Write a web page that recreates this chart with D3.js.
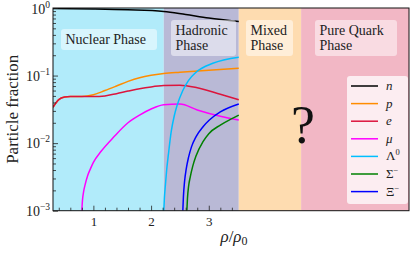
<!DOCTYPE html>
<html>
<head>
<meta charset="utf-8">
<script src="https://cdn.jsdelivr.net/npm/d3@7"></script>
<style>
  html, body { margin:0; padding:0; background:#fff; }
  svg { display:block; }
  svg text { font-family:"Liberation Serif", "Times New Roman", "DejaVu Serif", serif; }
</style>
</head>
<body>
<svg id="chart" width="415" height="253"></svg>
<script>
// ── 데이터 ─────────────────────────────────────────
const nX  = [0.3, 1.0, 1.6, 2.22, 2.6, 3.0, 3.52];
const nY  = [0.98, 0.965, 0.94, 0.89, 0.80, 0.71, 0.63];

const pX  = [0.3, 0.4, 0.5, 0.6, 0.8, 1.0, 1.2, 1.4, 1.6, 1.8, 2.0, 2.22, 2.5, 3.0, 3.52];
const pY  = [0.034, 0.044, 0.048, 0.049, 0.049, 0.052, 0.060, 0.070, 0.082, 0.093, 0.101, 0.107, 0.112, 0.12, 0.128];

const eX  = [0.3, 0.4, 0.5, 0.6, 0.8, 1.0, 1.2, 1.4, 1.6, 1.8, 2.0, 2.22, 2.5, 2.8, 3.2, 3.52];
const eY  = [0.034, 0.044, 0.048, 0.049, 0.049, 0.049, 0.050, 0.054, 0.059, 0.064, 0.068, 0.071, 0.072, 0.066, 0.053, 0.044];

const muX = [0.8, 0.81, 0.83, 0.86, 0.9, 0.95, 1.0, 1.13, 1.36, 1.6, 1.8, 2.0, 2.22, 2.5, 2.8, 3.2, 3.52];
const muY = [0.001, 0.0014, 0.0019, 0.0025, 0.0033, 0.0042, 0.0052, 0.0075, 0.0125, 0.020, 0.026, 0.032, 0.037, 0.038, 0.031, 0.025, 0.022];

const laX = [2.22, 2.23, 2.25, 2.27, 2.3, 2.35, 2.4, 2.45, 2.55, 2.65, 2.78, 3.07, 3.52];
const laY = [0.001, 0.0015, 0.0025, 0.004, 0.0068, 0.015, 0.025, 0.036, 0.060, 0.085, 0.112, 0.152, 0.187];

const siX = [2.62, 2.63, 2.65, 2.68, 2.72, 2.78, 2.9, 3.0, 3.2, 3.4, 3.52];
const siY = [0.001, 0.0015, 0.0023, 0.0032, 0.0045, 0.0065, 0.0105, 0.0138, 0.0185, 0.023, 0.026];

const xiX = [2.55, 2.56, 2.58, 2.61, 2.65, 2.7, 2.78, 2.9, 3.01, 3.2, 3.52];
const xiY = [0.001, 0.0016, 0.0027, 0.0042, 0.0062, 0.0088, 0.0125, 0.0175, 0.022, 0.029, 0.038];

const seriesNames  = ["n", "p", "e", "μ", "Λ", "Σ", "Ξ"];
const seriesSup    = ["", "", "", "", "0", "−", "−"];
const seriesColors = ["#000000", "#ff8c00", "#dc143c", "#ff00ff", "#00bfff", "#008000", "#0000ff"];
const seriesX = [nX, pX, eX, muX, laX, siX, xiX];
const seriesY = [nY, pY, eY, muY, laY, siY, xiY];
// 그리는 순서 (범례 순서와 다름)
const drawOrder = [0, 1, 2, 3, 4, 6, 5];

// 상(phase) 구간
const phaseEdges  = [0.3, 2.22, 3.52, 4.6, 6.47];
const phaseColors = ["#b1ebfa", "#b9b9d6", "#fedcb0", "#f2b7c5"];

const xMajor = [1, 2, 3];
const yMajor = [1e-3, 1e-2, 1e-1, 1];
const yTickExp = ["−3", "−2", "−1", "0"];

// ── 레이아웃 ─────────────────────────────────────────────
const W = 415, H = 253;
const M = { left: 53, right: 6, top: 8, bottom: 42.3 };

const svg = d3.select("#chart");
const x = d3.scaleLinear().domain([0.3, 6.47]).range([M.left, W - M.right]);
const y = d3.scaleLog().domain([1e-3, 1]).range([H - M.bottom, M.top]);

// 배경 구간
svg.append("g").selectAll("rect")
  .data(phaseColors)
  .join("rect")
  .attr("x", (d, i) => x(phaseEdges[i]))
  .attr("width", (d, i) => x(phaseEdges[i + 1]) - x(phaseEdges[i]))
  .attr("y", M.top)
  .attr("height", y(1e-3) - M.top)
  .attr("fill", d => d);

// 곡선
svg.append("clipPath").attr("id", "clip")
  .append("rect").attr("x", M.left).attr("y", M.top)
  .attr("width", W - M.right - M.left).attr("height", y(1e-3) - M.top);

const line = d3.line().x(d => x(d[0])).y(d => y(d[1])).curve(d3.curveMonotoneX);
svg.append("g").attr("clip-path", "url(#clip)")
  .selectAll("path")
  .data(drawOrder)
  .join("path")
  .attr("d", i => line(d3.zip(seriesX[i], seriesY[i])))
  .attr("fill", "none")
  .attr("stroke", i => seriesColors[i])
  .attr("stroke-width", 1.5);

// 축 (눈금은 안쪽으로)
const xMinor = d3.range(0.4, 3.41, 0.2).filter(v => Math.abs(v - Math.round(v)) > 0.01);
const xAxis = svg.append("g").attr("transform", `translate(0,${y(1e-3)})`);
xAxis.call(d3.axisBottom(x).tickValues(xMajor).tickSize(-5).tickFormat(d3.format("d")));
xAxis.append("g").call(d3.axisBottom(x).tickValues(xMinor).tickSize(-3).tickFormat(""));
xAxis.selectAll(".domain").remove();
xAxis.selectAll(".tick text").attr("dy", 0).attr("y", 15)
  .attr("font-size", 13).attr("fill", "#222");

const yMinor = [];
[1e-3, 1e-2, 1e-1].forEach(b => { for (let k = 2; k <= 9; k++) yMinor.push(b * k); });
const yAxis = svg.append("g").attr("transform", `translate(${M.left},0)`);
yAxis.call(d3.axisLeft(y).tickValues(yMajor).tickSize(-5).tickFormat(""));
yAxis.append("g").call(d3.axisLeft(y).tickValues(yMinor).tickSize(-3).tickFormat(""));
yAxis.selectAll(".domain").remove();
svg.selectAll(".tick line").attr("stroke", "#222").attr("stroke-width", 0.8);

// y 눈금 라벨 10^k
const yl = svg.append("g").selectAll("text").data(yMajor).join("text")
  .attr("x", M.left - 3).attr("y", d => y(d) + (d === 1 ? 6 : 5))
  .attr("text-anchor", "end").attr("font-size", 14).attr("fill", "#222");
yl.append("tspan").text("10");
yl.append("tspan").attr("dy", -6).attr("font-size", 9.5).text((d, i) => yTickExp[i]);

// 테두리
svg.append("rect")
  .attr("x", M.left).attr("y", M.top)
  .attr("width", W - M.right - M.left).attr("height", y(1e-3) - M.top)
  .attr("fill", "none").attr("stroke", "#111").attr("stroke-width", 1);

// 축 제목
svg.append("text")
  .attr("transform", `translate(18,${(M.top + y(1e-3)) / 2}) rotate(-90)`)
  .attr("text-anchor", "middle").attr("font-size", 17).attr("fill", "#222")
  .text("Particle fraction");
const xl = svg.append("text").attr("x", 234).attr("y", 242)
  .attr("text-anchor", "middle").attr("font-size", 17).attr("fill", "#222");
xl.append("tspan").attr("font-style", "italic").text("ρ");
xl.append("tspan").text("/");
xl.append("tspan").attr("font-style", "italic").text("ρ");
xl.append("tspan").attr("font-size", 12).attr("dy", 3).text("0");

// 상 라벨 상자
const phaseLabels = [
  { lines: ["Nuclear Phase"], bx: 61, by: 29, bw: 96, bh: 21 },
  { lines: ["Hadronic", "Phase"], bx: 171, by: 20, bw: 65, bh: 36 },
  { lines: ["Mixed", "Phase"], bx: 246, by: 20, bw: 47, bh: 36 },
  { lines: ["Pure Quark", "Phase"], bx: 315, by: 20, bw: 82, bh: 36 }
];
const pl = svg.append("g").selectAll("g").data(phaseLabels).join("g");
pl.append("rect")
  .attr("x", d => d.bx).attr("y", d => d.by).attr("width", d => d.bw).attr("height", d => d.bh)
  .attr("rx", 3).attr("fill", "#fff").attr("fill-opacity", 0.5);
pl.each(function(d) {
  d3.select(this).selectAll("text").data(d.lines).join("text")
    .attr("x", d.bx + 4.5)
    .attr("y", (t, j) => d.by + 14.5 + j * 15)
    .attr("font-size", 14).attr("fill", "#222")
    .text(t => t);
});

// 물음표
svg.append("text").attr("x", 303).attr("y", 143)
  .attr("text-anchor", "middle").attr("font-size", 54).attr("fill", "#111")
  .text("?");

// 범례
const lg = svg.append("g");
lg.append("rect").attr("x", 347).attr("y", 76).attr("width", 61).attr("height", 128)
  .attr("rx", 3).attr("fill", "#fff").attr("fill-opacity", 0.75);
const items = lg.selectAll("g.item").data(seriesNames).join("g").attr("class", "item")
  .attr("transform", (d, i) => `translate(0,${86 + i * 17.6})`);
items.append("line").attr("x1", 351).attr("x2", 378)
  .attr("stroke", (d, i) => seriesColors[i]).attr("stroke-width", 1.5);
const lt = items.append("text").attr("x", 386).attr("y", 4)
  .attr("font-size", 13).attr("fill", "#222");
lt.append("tspan").attr("font-style", (d, i) => i < 4 ? "italic" : "normal").text(d => d);
lt.append("tspan").attr("dy", -5).attr("font-size", 8.5).text((d, i) => seriesSup[i]);
</script>
</body>
</html>
